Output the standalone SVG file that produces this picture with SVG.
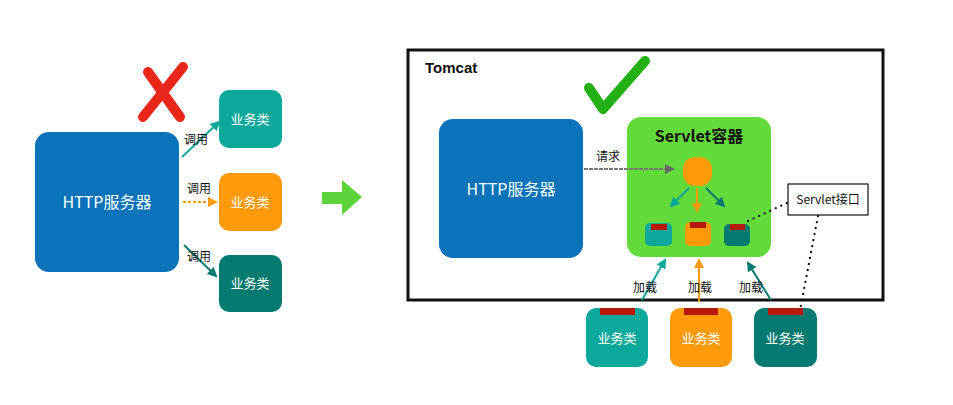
<svg xmlns="http://www.w3.org/2000/svg" width="953" height="405" viewBox="0 0 953 405">
<style>
text{font-family:"Noto Sans CJK SC","Liberation Sans",sans-serif;}
.big{fill:#fff;font-size:16px;text-anchor:middle;}
.biz{fill:#fff;font-size:13px;text-anchor:middle;}
.lbl{fill:#111;font-size:12px;text-anchor:middle;}
.blue{fill:#0A73BA;}
.teal{fill:#0BA89B;}
.orange{fill:#FF9A0B;}
.dteal{fill:#057A70;}
.tab{fill:#B8190D;}
</style>
<defs>
<marker id="aT" markerWidth="10" markerHeight="10" refX="8" refY="5" orient="auto" markerUnits="userSpaceOnUse"><path d="M0,0 L10,5 L0,10 z" fill="#0BA89B"/></marker>
<marker id="aO" markerWidth="10" markerHeight="10" refX="8" refY="5" orient="auto" markerUnits="userSpaceOnUse"><path d="M0,0 L10,5 L0,10 z" fill="#FF9A0B"/></marker>
<marker id="aD" markerWidth="10" markerHeight="10" refX="8" refY="5" orient="auto" markerUnits="userSpaceOnUse"><path d="M0,0 L10,5 L0,10 z" fill="#057A70"/></marker>
<marker id="aG" markerWidth="10" markerHeight="10" refX="8" refY="5" orient="auto" markerUnits="userSpaceOnUse"><path d="M0,0 L10,5 L0,10 z" fill="#666"/></marker>
</defs>
<rect width="953" height="405" fill="#fff"/>

<!-- Left side -->
<g id="http-left"><rect x="35" y="132" width="144" height="140" rx="14" class="blue"/><text x="107" y="208" class="big">HTTP服务器</text></g>
<g id="biz-left-1"><rect x="219" y="90" width="63" height="58" rx="10" class="teal"/><text x="250" y="124" class="biz">业务类</text></g>
<g id="biz-left-2"><rect x="219" y="173" width="63" height="58" rx="10" class="orange"/><text x="250" y="207" class="biz">业务类</text></g>
<g id="biz-left-3"><rect x="219" y="255" width="63" height="57" rx="10" class="dteal"/><text x="250" y="288" class="biz">业务类</text></g>
<g id="cross"><path d="M148,72 L180,117 M183,67 L143,117" stroke="#E8261A" stroke-width="10" stroke-linecap="round" fill="none"/></g>

<!-- Middle arrow -->
<g id="green-arrow"><path d="M322,192 L342,192 L342,180 L362,197 L342,215 L342,204 L322,204 z" fill="#5DD43A"/></g>

<!-- Tomcat -->
<g id="tomcat"><rect x="408" y="50" width="475" height="250" fill="none" stroke="#111" stroke-width="3"/><text x="425" y="73" font-size="15" font-weight="bold" fill="#111" style="font-family:'Liberation Sans',sans-serif">Tomcat</text></g>
<g id="check"><path d="M589,88 L603,109 L645,61" stroke="#23B014" stroke-width="10" stroke-linecap="round" stroke-linejoin="round" fill="none"/></g>
<g id="http-right"><rect x="439" y="119" width="144" height="139" rx="14" class="blue"/><text x="511" y="195" class="big">HTTP服务器</text></g>
<g id="servlet-container">
<rect x="627" y="117" width="144" height="140" rx="14" fill="#62DA3A"/>
<text x="699" y="142" font-size="16" font-weight="bold" fill="#111" text-anchor="middle">Servlet容器</text>
<rect x="683" y="157" width="29" height="29" rx="12" class="orange"/>
<rect x="645" y="223" width="27" height="23" rx="5" class="teal"/><rect x="651" y="224" width="16" height="6" class="tab"/>
<rect x="685" y="222" width="26" height="24" rx="5" class="orange"/><rect x="690" y="222" width="16" height="6" class="tab"/>
<rect x="724" y="224" width="26" height="22" rx="5" class="dteal"/><rect x="730" y="224" width="15" height="6" class="tab"/>
</g>
<g id="servlet-interface"><rect x="788" y="184" width="80" height="31" fill="#fff" stroke="#111" stroke-width="1.2"/><text x="828" y="204" font-size="12" fill="#111" text-anchor="middle">Servlet接口</text></g>
<g id="biz-bottom-1"><rect x="586" y="308" width="62" height="59" rx="10" class="teal"/><rect x="600" y="308" width="35" height="7" class="tab"/><text x="617" y="343" class="biz">业务类</text></g>
<g id="biz-bottom-2"><rect x="670" y="308" width="62" height="59" rx="10" class="orange"/><rect x="684" y="308" width="34" height="7" class="tab"/><text x="701" y="343" class="biz">业务类</text></g>
<g id="biz-bottom-3"><rect x="754" y="308" width="63" height="59" rx="10" class="dteal"/><rect x="768" y="308" width="35" height="7" class="tab"/><text x="785" y="343" class="biz">业务类</text></g>

<g id="connectors">
<line x1="182" y1="157" x2="219" y2="122" stroke="#0BA89B" stroke-width="2" marker-end="url(#aT)"/>
<line x1="183" y1="202" x2="216" y2="202" stroke="#FF9A0B" stroke-width="2" stroke-dasharray="3,2" marker-end="url(#aO)"/>
<line x1="184" y1="245" x2="216" y2="276" stroke="#057A70" stroke-width="2" marker-end="url(#aD)"/>
<line x1="584" y1="169" x2="673" y2="169" stroke="#777" stroke-width="2" stroke-dasharray="4,1" marker-end="url(#aG)"/>
<line x1="689" y1="188" x2="671" y2="206" stroke="#0BA89B" stroke-width="2" marker-end="url(#aT)"/>
<line x1="697" y1="188" x2="697" y2="211" stroke="#FF9A0B" stroke-width="2" marker-end="url(#aO)"/>
<line x1="706" y1="188" x2="724" y2="206" stroke="#057A70" stroke-width="2" marker-end="url(#aD)"/>
<line x1="642" y1="300" x2="665" y2="260" stroke="#0BA89B" stroke-width="2" marker-end="url(#aT)"/>
<line x1="699" y1="302" x2="699" y2="260" stroke="#FF9A0B" stroke-width="2" marker-end="url(#aO)"/>
<line x1="771" y1="300" x2="748" y2="263" stroke="#057A70" stroke-width="2" marker-end="url(#aD)"/>
<line x1="748" y1="221" x2="787" y2="203" stroke="#111" stroke-width="2.2" stroke-dasharray="0.1,6" stroke-linecap="round"/>
<line x1="818" y1="216" x2="800" y2="310" stroke="#111" stroke-width="2.2" stroke-dasharray="0.1,6" stroke-linecap="round"/>
<text x="196" y="144" class="lbl">调用</text>
<text x="199" y="193" class="lbl">调用</text>
<text x="199" y="261" class="lbl">调用</text>
<text x="608" y="161" class="lbl">请求</text>
<text x="645" y="292" class="lbl">加载</text>
<text x="700" y="292" class="lbl">加载</text>
<text x="751" y="292" class="lbl">加载</text>
</g>
</svg>
